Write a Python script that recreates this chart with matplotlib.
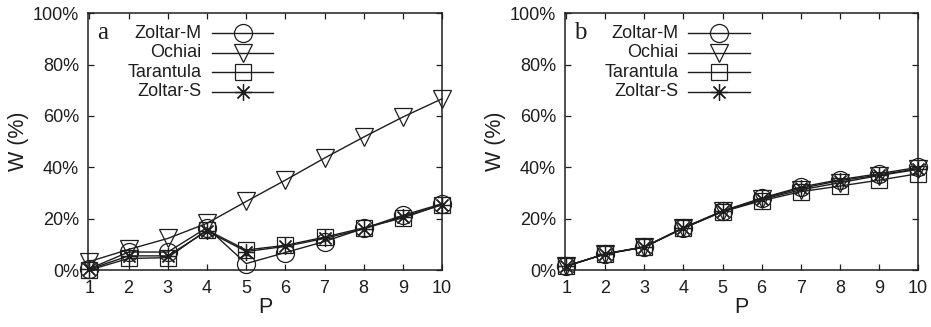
import matplotlib
matplotlib.use("Agg")
import matplotlib.pyplot as plt
from matplotlib.ticker import FuncFormatter

plt.rcParams['font.family'] = ['Liberation Sans', 'DejaVu Sans']

P = [1, 2, 3, 4, 5, 6, 7, 8, 9, 10]
series_names = ["Zoltar-M", "Ochiai", "Tarantula", "Zoltar-S"]

a_zoltar_m = [0.5, 7.0, 7.0, 16.5, 2.5, 6.8, 11.1, 16.2, 21.3, 25.8]
a_ochiai = [3.3, 8.0, 12.3, 18.2, 26.7, 35.0, 43.6, 51.8, 59.6, 66.7]
a_tarantula = [0.0, 4.5, 4.8, 15.6, 7.8, 9.6, 12.8, 16.4, 20.3, 25.5]
a_zoltar_s = [0.3, 5.5, 5.5, 15.2, 7.2, 9.2, 12.3, 16.0, 20.8, 25.4]

b_zoltar_m = [1.5, 6.3, 9.0, 16.5, 23.0, 28.0, 32.3, 35.2, 37.5, 40.0]
b_ochiai = [1.5, 6.3, 9.0, 16.3, 22.8, 27.5, 31.2, 34.0, 36.8, 39.2]
b_tarantula = [1.5, 6.2, 8.9, 16.3, 22.7, 27.0, 30.5, 32.7, 35.0, 37.5]
b_zoltar_s = [1.5, 6.3, 9.0, 16.4, 22.9, 27.8, 31.8, 34.8, 37.0, 39.5]

panels = [("a", [a_zoltar_m, a_ochiai, a_tarantula, a_zoltar_s]),
          ("b", [b_zoltar_m, b_ochiai, b_tarantula, b_zoltar_s])]

markers = ['o', 'v', 's', (8, 2, 0)]
msizes = [13, 13, 12, 12]
ink = '#1e1e1e'

fig = plt.figure(figsize=(9.31, 3.27), dpi=100)
positions = [[0.0948, 0.1743, 0.3800, 0.7850],
             [0.6069, 0.1743, 0.3791, 0.7850]]

legend_rows = [0.922, 0.846, 0.770, 0.694]

for (tag, data), pos in zip(panels, positions):
    ax = fig.add_axes(pos)
    for vals, name, m, ms in zip(data, series_names, markers, msizes):
        ax.plot(P, vals, color=ink, lw=1.0, marker=m, markersize=ms,
                markerfacecolor='none', markeredgecolor=ink,
                markeredgewidth=0.9, label=name, clip_on=False, zorder=3)
    # legend (gnuplot style: right-aligned text, then line sample with marker)
    for name, m, ms, yy in zip(series_names, markers, msizes, legend_rows):
        ax.text(0.321, yy, name, transform=ax.transAxes, ha='right',
                va='center', fontsize=13, color=ink)
        ax.plot([0.349, 0.523], [yy, yy], transform=ax.transAxes,
                color=ink, lw=1.0, clip_on=False)
        ax.plot([0.436], [yy], transform=ax.transAxes, marker=m,
                markersize=ms, markerfacecolor='none', markeredgecolor=ink,
                markeredgewidth=0.9, clip_on=False)
    ax.set_xlim(0.97, 10)
    ax.set_ylim(0, 100)
    ax.set_xticks(P)
    ax.set_yticks([0, 20, 40, 60, 80, 100])
    ax.yaxis.set_major_formatter(FuncFormatter(lambda v, p: f"{int(v)}%"))
    ax.tick_params(direction='in', length=4.5, width=0.9, colors=ink,
                   labelsize=13, top=True, right=True, pad=6.5)
    ax.tick_params(axis='x', pad=7.5)
    for sp in ax.spines.values():
        sp.set_linewidth(1.1)
        sp.set_color(ink)
    ax.set_xlabel("P", fontsize=15.5, color=ink, labelpad=0)
    ax.set_ylabel("W (%)", fontsize=15.5, color=ink, labelpad=3)
    ax.text(0.042, 0.923, tag, transform=ax.transAxes, fontsize=18,
            family=['Liberation Serif', 'DejaVu Serif'], color=ink,
            ha='center', va='center')

fig.savefig("out.png", dpi=100)
